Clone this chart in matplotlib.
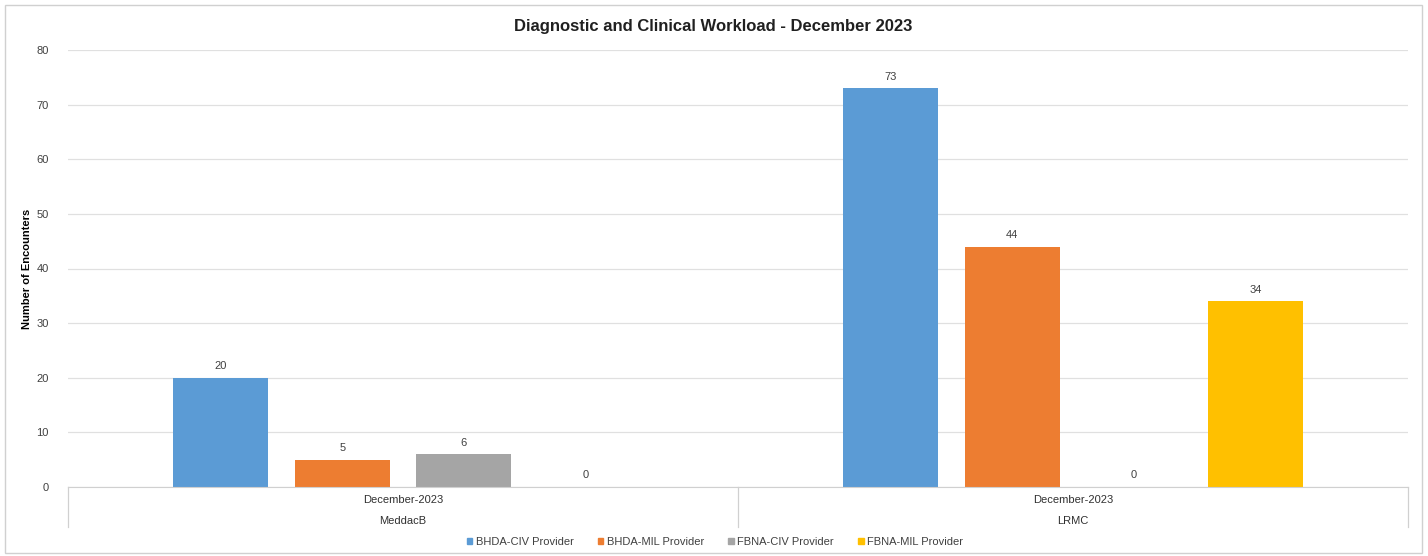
import matplotlib
matplotlib.use("Agg")
import matplotlib.pyplot as plt
from matplotlib.patches import Rectangle
from matplotlib.lines import Line2D
import numpy as np

plt.rcParams['font.family'] = ['Liberation Sans', 'DejaVu Sans']

sites = ["MeddacB", "LRMC"]
periods = ["December-2023", "December-2023"]
series = ["BHDA-CIV Provider", "BHDA-MIL Provider", "FBNA-CIV Provider", "FBNA-MIL Provider"]
bhda_civ = [20, 73]
bhda_mil = [5, 44]
fbna_civ = [6, 0]
fbna_mil = [0, 34]
values = [bhda_civ, bhda_mil, fbna_civ, fbna_mil]
colors = ["#5B9BD5", "#ED7D31", "#A5A5A5", "#FFC000"]
yticks = [0, 10, 20, 30, 40, 50, 60, 70, 80]

fig = plt.figure(figsize=(14.28, 5.56), dpi=100)
ax = fig.add_axes([68/1428, 1-487/556, (1408-68)/1428, (487-50)/556])

x = np.arange(len(sites))
step = 0.1816
width = 0.142
for i, (name, vals, c) in enumerate(zip(series, values, colors)):
    off = (i - 1.5) * step
    ax.bar(x + off, vals, width, color=c, label=name, zorder=3)
    for xi, v in zip(x + off, vals):
        ax.text(xi, v + 1.2, f"{v}", ha="center", va="bottom", fontsize=8, color="#404040")

ax.set_xlim(-0.5, 1.5)
ax.set_ylim(0, 80)
ax.set_yticks(yticks)
ax.set_yticklabels([str(t) for t in yticks], fontsize=8, color="#404040")
ax.tick_params(axis="y", length=0, pad=14)
ax.yaxis.grid(True, color="#e0e0e0", linewidth=0.9, zorder=0)
ax.set_xticks([])
for s in ["top", "right", "left"]:
    ax.spines[s].set_visible(False)
ax.spines["bottom"].set_color("#d0d0d0")
ax.spines["bottom"].set_zorder(4)

# multi-level category labels
for xi, per, site in zip(x, periods, sites):
    ax.text(xi, -2.4, per, ha="center", va="center", fontsize=8, color="#303030",
            transform=ax.transData, clip_on=False)
    ax.text(xi, -6.3, site, ha="center", va="center", fontsize=8, color="#303030",
            transform=ax.transData, clip_on=False)
for b in [-0.5, 0.5, 1.5]:
    ax.add_line(Line2D([b, b], [0, -7.3], color="#d0d0d0", linewidth=0.9, clip_on=False))

ax.set_ylabel("Number of Encounters", fontsize=8, fontweight="bold")
ax.yaxis.set_label_coords(-0.027, 0.5)

fig.suptitle("Diagnostic and Clinical Workload - December 2023", fontsize=12, fontweight="bold",
             y=1-27/556, va="center", x=713/1428, color="#202020")

handles = [Rectangle((0, 0), 1, 1, color=c) for c in colors]
fig.legend(handles, series, loc="center", bbox_to_anchor=(715/1428, 1-542/556), ncol=4,
           frameon=False, fontsize=8, handlelength=0.5, handleheight=0.5, handletextpad=0.3,
           columnspacing=2.2, labelcolor="#404040")

fig.add_artist(Rectangle((5/1428, 3/556), 1417/1428, 548/556, transform=fig.transFigure,
                         fill=False, edgecolor="#d0d0d0", linewidth=1))

fig.savefig("out.png", dpi=100)
